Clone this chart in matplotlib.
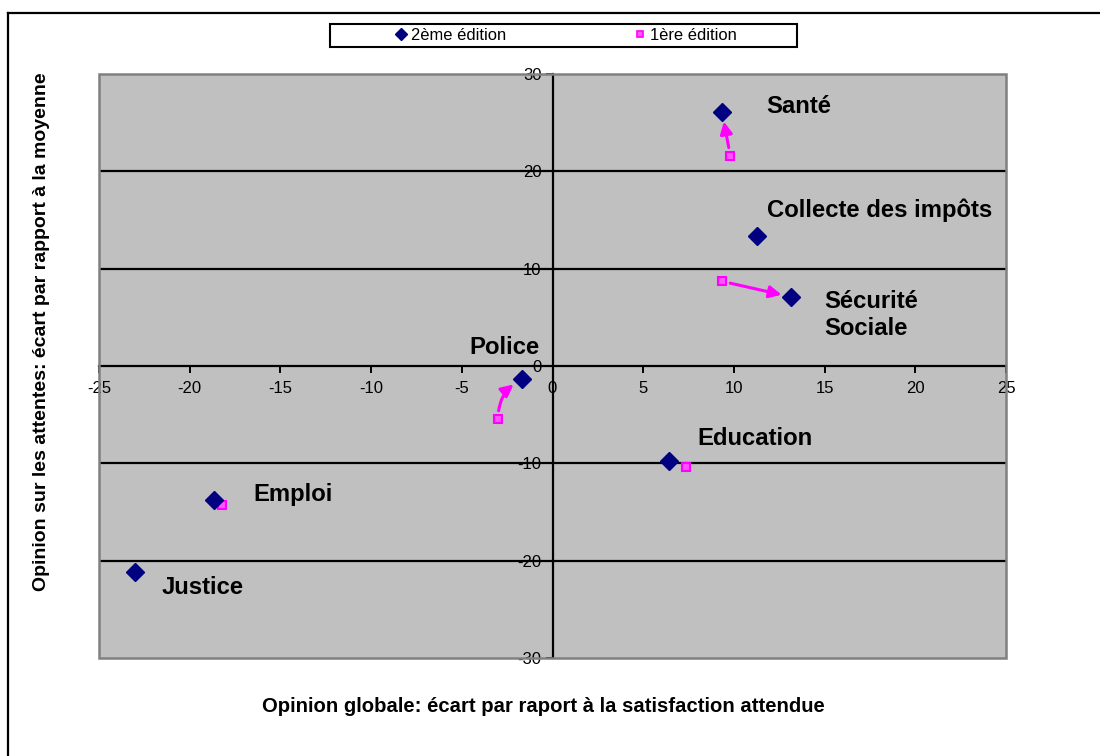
import matplotlib
matplotlib.use('Agg')
import matplotlib.pyplot as plt
from matplotlib.patches import Rectangle
from matplotlib.lines import Line2D

plt.rcParams['font.family'] = ['Liberation Sans', 'DejaVu Sans']

# ---- data ----
categories = ['Santé', 'Collecte des impôts', 'Sécurité\nSociale', 'Police',
              'Education', 'Emploi', 'Justice']
ed2_x = [9.35, 11.3, 13.15, -1.7, 6.4, -18.65, -23.0]
ed2_y = [26.1, 13.4, 7.1, -1.35, -9.8, -13.8, -21.2]

ed1_cats = ['Santé', 'Sécurité\nSociale', 'Police', 'Education', 'Emploi']
ed1_x = [9.8, 9.35, -3.0, 7.35, -18.2]
ed1_y = [21.6, 8.7, -5.45, -10.4, -14.3]

arrow_cats = ['Santé', 'Sécurité\nSociale', 'Police']

x_ticks = [-25, -20, -15, -10, -5, 0, 5, 10, 15, 20, 25]
y_ticks = [-30, -20, -10, 0, 10, 20, 30]

series_names = ['2ème édition', '1ère édition']
x_label = 'Opinion globale: écart par raport à la satisfaction attendue'
y_label = 'Opinion sur les attentes: écart par rapport à la moyenne'

# ---- styling / layout ----
label_offsets = [(32, 4), (6.5, 18), (24, -13), (-37.5, 23), (21, 16.5), (28, 4.3), (18.7, -10.8)]
arrow_rads = [0.0, 0.0, -0.3]
NAVY = '#000080'
MAGENTA = '#FF00FF'

W, H = 1100, 756
fig = plt.figure(figsize=(W / 100, H / 100), dpi=100)
fig.patch.set_facecolor('white')

ax = fig.add_axes([99 / W, 1 - 658 / H, 907 / W, 584 / H])
ax.set_facecolor('#C0C0C0')
ax.set_xlim(x_ticks[0], x_ticks[-1])
ax.set_ylim(y_ticks[0], y_ticks[-1])

for s in ['top', 'right']:
    ax.spines[s].set_visible(False)
for s in ['left', 'bottom']:
    ax.spines[s].set_position(('data', 0))
    ax.spines[s].set_color('black')
    ax.spines[s].set_linewidth(1.6)
    ax.spines[s].set_zorder(3)

ax.add_patch(Rectangle((0, 0), 1, 1, transform=ax.transAxes, fill=False,
                       edgecolor='#808080', lw=1.8, zorder=4, clip_on=False))

for yv in y_ticks[1:-1]:
    if yv != 0:
        ax.axhline(yv, color='black', lw=1.6, zorder=1)

ax.set_xticks(x_ticks)
ax.set_yticks(y_ticks)
ax.set_xticklabels([str(v) for v in x_ticks])
ax.set_yticklabels([str(v) for v in y_ticks])
ax.tick_params(axis='x', direction='out', length=5, width=1.4, pad=6, labelsize=12, colors='black')
ax.tick_params(axis='y', direction='out', length=5, width=1.4, pad=3, labelsize=12, colors='black')

# points
ax.plot(ed2_x, ed2_y, 'D', color=NAVY, ms=9.2, zorder=6, clip_on=False)
ax.plot(ed1_x, ed1_y, 's', markerfacecolor='#FF55FF', markeredgecolor=MAGENTA,
        mew=1.5, ms=5.6, zorder=5)

# arrows from 1st to 2nd edition
for cat, rad in zip(arrow_cats, arrow_rads):
    i2 = categories.index(cat)
    i1 = ed1_cats.index(cat)
    ax.annotate('', xy=(ed2_x[i2], ed2_y[i2]), xytext=(ed1_x[i1], ed1_y[i1]),
                arrowprops=dict(arrowstyle='-|>', color=MAGENTA, lw=2.2,
                                shrinkA=6, shrinkB=7, mutation_scale=18,
                                connectionstyle=f'arc3,rad={rad}'),
                zorder=5)

# category labels
for cat, x, y, off in zip(categories, ed2_x, ed2_y, label_offsets):
    ax.annotate(cat, xy=(x, y), xytext=off, textcoords='offset points',
                ha='left', va='center', fontsize=17.2, fontweight='bold',
                color='black', linespacing=1.27, zorder=7)

# axis titles
fig.text(543 / W, 1 - 706 / H, x_label, ha='center', va='center',
         fontsize=14.6, fontweight='bold')
fig.text(42 / W, 1 - 332 / H, y_label, ha='center', va='center',
         rotation=90, fontsize=14.0, fontweight='bold')

# legend
fig.add_artist(Rectangle((330 / W, 1 - 47 / H), 467 / W, 23 / H,
                         transform=fig.transFigure, fill=False,
                         edgecolor='black', lw=1.5))
handles = [Line2D([], [], ls='none', marker='D', color=NAVY, ms=6.5),
           Line2D([], [], ls='none', marker='s', markerfacecolor='#FF55FF',
                  markeredgecolor=MAGENTA, mew=1.2, ms=5)]
fig.legend(handles, series_names, loc='center',
           bbox_to_anchor=(566 / W, 1 - 35.5 / H), ncol=2, frameon=False,
           fontsize=11.9, handlelength=0.8, handletextpad=0.2,
           columnspacing=7.7, borderpad=0)

# outer chart frame (left and top edges visible)
fig.add_artist(Line2D([7.5 / W, 7.5 / W], [0, 1 - 12.5 / H],
                      transform=fig.transFigure, color='black', lw=1.6))
fig.add_artist(Line2D([7.5 / W, 1], [1 - 12.5 / H, 1 - 12.5 / H],
                      transform=fig.transFigure, color='black', lw=1.6))

fig.savefig('out.png', dpi=100)
